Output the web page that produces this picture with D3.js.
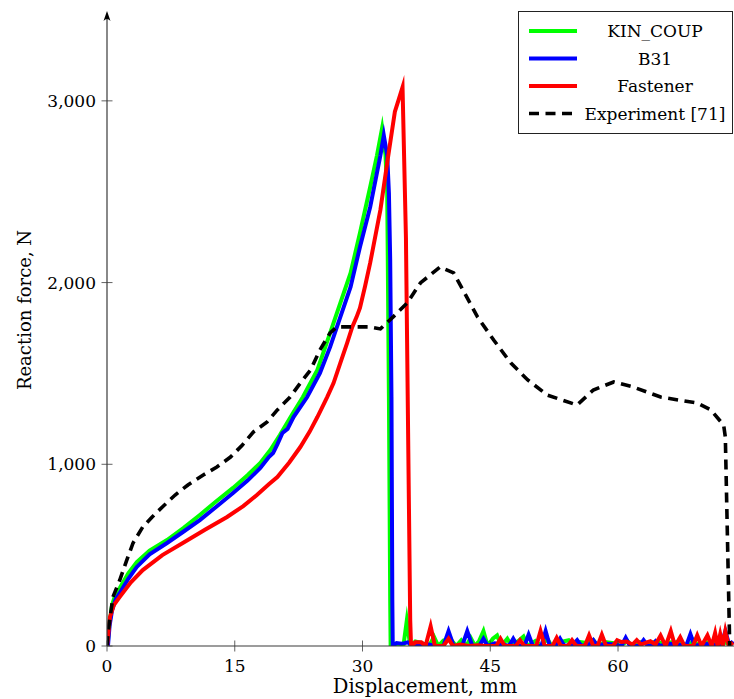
<!DOCTYPE html>
<html>
<head>
<meta charset="utf-8">
<script src="https://cdn.jsdelivr.net/npm/d3@7"></script>
<style>
  html, body { margin: 0; padding: 0; background: #fff; }
  svg text { font-family: "DejaVu Serif", "Liberation Serif", serif; fill: #000; }
</style>
</head>
<body>
<svg id="chart" width="734" height="699"></svg>
<script>
// ---------------- data ----------------
const xTicks = [0, 15, 30, 45, 60];
const yTicks = [0, 1000, 2000, 3000];
const xLabel = "Displacement, mm";
const yLabel = "Reaction force, N";
const seriesNames = ["KIN_COUP", "B31", "Fastener", "Experiment [71]"];
const seriesColors = ["#00ff00", "#0000ff", "#ff0000", "#000000"];

const kinCoup = [
  [0,0],[0.1,22],[0.3,130],[0.6,226],[1.0,285],[1.5,319],[2.5,400],[3.5,462],[5,525],[7.05,583],
  [9,650],[10.9,721],[12.8,795],[14.8,870],[16.5,940],[18.0,1007],[19.2,1080],[20.3,1161],[21.7,1271],
  [23.0,1370],[24.7,1519],[26.2,1723],[27.4,1888],[28.6,2053],[29.7,2273],[30.9,2526],[31.7,2700],
  [32.3,2850],[32.7,2700],[32.9,2493],[33.0,1943],[33.1,1370],[33.25,253],[33.3,0],
  [33.8,12],[34.4,8],[34.8,0],[35.2,140],[35.6,0],[36.2,25],[37.0,15],[37.8,0],[38.4,50],[38.9,0],
  [39.5,30],[40.3,40],[41.0,0],[41.6,32],[42.2,0],[42.7,45],[43.2,0],[43.7,28],[44.2,82],[44.7,0],
  [45.3,40],[45.8,58],[46.3,0],[47.0,40],[47.5,0],[48.3,28],[48.9,52],[49.4,0],[50.3,28],[51.0,0],
  [51.7,40],[52.2,0],[53.3,22],[54.2,32],[54.7,0],[55.6,22],[56.5,15],[57.1,32],[57.6,0],[58.5,22],
  [59.5,15],[60.3,0],[61.1,28],[61.6,0],[62.5,22],[63.5,15],[64.5,22],[65.5,15],[66.5,22],[67.5,15],
  [68.3,0],[68.9,32],[69.4,0],[70.2,22],[71.0,15],[72.0,22],[73.0,15],[73.5,8]
];

const b31 = [
  [0,0],[0.12,5],[0.3,110],[0.6,198],[1.0,255],[1.5,292],[2.5,370],[3.5,435],[5,505],[7.05,567],
  [9,630],[10.9,693],[12.8,765],[14.8,842],[16.5,910],[18.0,980],[19.0,1040],[19.5,1062],[20.0,1110],
  [20.6,1172],[21.2,1195],[21.9,1260],[23.5,1370],[25.0,1502],[26.2,1646],[27.4,1811],[28.6,1976],
  [29.7,2196],[30.9,2416],[32.1,2700],[32.5,2810],[32.9,2700],[33.1,2493],[33.25,2124],[33.4,1370],
  [33.5,253],[33.55,0],
  [34.0,16],[34.6,12],[35.3,20],[35.8,8],[36.3,0],[37.0,12],[37.8,8],[38.5,0],[39.5,0],[40.1,82],
  [40.7,0],[41.7,0],[42.3,82],[42.9,0],[43.7,0],[44.2,40],[44.7,0],[45.5,15],[46.5,8],[47.2,0],
  [47.7,40],[48.2,0],[49.0,0],[49.5,62],[50.0,0],[51.0,0],[51.5,82],[52.0,0],[52.7,0],[53.2,40],
  [53.7,0],[54.7,8],[55.2,32],[55.7,0],[56.6,8],[57.1,32],[57.6,0],[58.5,12],[59.5,8],[60.4,0],
  [60.9,45],[61.4,0],[62.5,0],[63.0,32],[63.5,0],[63.9,0],[64.4,26],[64.9,0],[66.0,12],[67.0,8],
  [68.0,0],[68.5,65],[69.0,0],[70.0,12],[71.0,8],[72.1,0],[72.6,82],[73.1,0],[73.5,26]
];

const fastener = [
  [0,0],[0.1,40],[0.35,160],[0.8,225],[1.5,270],[2.8,350],[4.2,418],[6.5,500],[8.9,567],[11.5,640],
  [14.1,710],[16,770],[17.6,831],[19,890],[20.0,930],[21.4,1010],[22.7,1095],[23.8,1180],[24.7,1260],
  [25.85,1370],[26.6,1447],[27.4,1558],[28.2,1668],[28.8,1756],[29.3,1810],[29.7,1860],[30.3,1980],
  [30.9,2108],[32.1,2400],[33.0,2691],[33.8,2940],[34.2,3000],[34.7,3075],[35.1,2245],[35.6,143],[35.7,0],
  [36.2,20],[36.9,20],[37.4,0],[38.0,108],[38.5,0],[39.5,0],[40.1,40],[40.6,0],[41.5,8],[42.5,0],
  [43.5,4],[44.5,0],[45.7,0],[46.2,40],[46.7,0],[48.0,0],[48.5,32],[49.0,0],[50.4,0],[50.9,82],
  [51.4,0],[52.3,0],[52.8,45],[53.3,0],[54.1,0],[54.6,32],[55.1,0],[56.1,0],[56.6,58],[57.1,0],
  [57.6,0],[58.1,62],[58.6,0],[59.4,0],[59.9,32],[60.4,22],[61.0,25],[61.7,8],[62.2,32],[62.7,8],
  [63.3,18],[63.8,26],[64.4,8],[65.0,58],[65.6,0],[66.2,82],[66.7,0],[67.3,48],[67.8,0],[68.8,0],
  [69.3,58],[69.8,0],[70.5,58],[71.0,0],[71.4,72],[71.7,0],[72.0,65],[72.3,0],[72.6,82],[73.0,0],
  [73.5,20]
];

const experiment = [
  [0,0],[0.12,72],[0.4,170],[0.7,270],[1.5,363],[2.3,470],[3.06,567],[4.2,655],[5.3,710],[6.5,765],
  [8.0,831],[9.5,886],[11.3,941],[12.9,985],[14.5,1040],[15.9,1106],[17.2,1178],[18.8,1233],[20.0,1299],
  [21.5,1370],[22.7,1447],[23.9,1519],[25.0,1629],[26.2,1723],[27.0,1756],[28.9,1756],[30.9,1756],
  [32.1,1745],[33.6,1811],[35.25,1888],[36.8,1998],[39.1,2086],[40.7,2053],[41.8,1959],[43.5,1811],
  [45.4,1684],[47.4,1558],[49.4,1464],[51.7,1381],[55.2,1326],[57.1,1409],[59.5,1453],[61.8,1425],
  [65.0,1370],[69.3,1337],[70.9,1299],[72.4,1216],[72.6,1150],[73.1,33],[73.1,0]
];

// ---------------- drawing ----------------
const svg = d3.select("#chart");
const x = d3.scaleLinear().domain([0, 73.5]).range([107, 733]);
const y = d3.scaleLinear().domain([0, 3500]).range([646, 10]);
const fmt = d3.format(",");

svg.append("defs").append("clipPath").attr("id", "plotclip")
  .append("rect").attr("x", x(0)).attr("y", y(3500))
  .attr("width", 734 - x(0)).attr("height", y(0) - y(3500));

const line = d3.line().x(d => x(d[0])).y(d => y(d[1]));

const plot = svg.append("g").attr("clip-path", "url(#plotclip)");
const simSeries = [kinCoup, b31, fastener];
simSeries.forEach((s, i) => {
  plot.append("path").datum(s).attr("d", line)
    .attr("fill", "none").attr("stroke", seriesColors[i])
    .attr("stroke-width", 4).attr("stroke-linejoin", "miter").attr("stroke-miterlimit", 10);
});
plot.append("path").datum(experiment).attr("d", line)
  .attr("fill", "none").attr("stroke", seriesColors[3])
  .attr("stroke-width", 3.6).attr("stroke-dasharray", "10,6.5");

// axes
const axisColor = "#3a3a3a";
svg.append("line").attr("x1", x(0)).attr("x2", 734).attr("y1", y(0)).attr("y2", y(0))
  .attr("stroke", axisColor).attr("stroke-width", 1.2);
svg.append("line").attr("x1", x(0)).attr("x2", x(0)).attr("y1", y(0)).attr("y2", 16)
  .attr("stroke", axisColor).attr("stroke-width", 1.2);
svg.append("path").attr("d", `M${x(0)},11 L${x(0)-3.5},21 Q${x(0)},17 ${x(0)+3.5},21 Z`)
  .attr("fill", "#000");

const xt = svg.append("g");
xTicks.forEach(t => {
  xt.append("line").attr("x1", x(t)).attr("x2", x(t)).attr("y1", y(0) - 5.5).attr("y2", y(0) + 5.5)
    .attr("stroke", axisColor).attr("stroke-width", 0.8);
  xt.append("text").attr("x", x(t)).attr("y", 672).attr("text-anchor", "middle")
    .attr("font-size", 17).text(fmt(t));
});
const yt = svg.append("g");
yTicks.forEach(t => {
  yt.append("line").attr("x1", x(0) - 5.5).attr("x2", x(0) + 5.5).attr("y1", y(t)).attr("y2", y(t))
    .attr("stroke", axisColor).attr("stroke-width", 0.8);
  yt.append("text").attr("x", 96).attr("y", y(t)).attr("dy", "0.36em").attr("text-anchor", "end")
    .attr("font-size", 17).text(fmt(t));
});

svg.append("text").attr("x", 425).attr("y", 693).attr("text-anchor", "middle")
  .attr("font-size", 19.5).text(xLabel);
svg.append("text").attr("transform", "translate(31,310) rotate(-90)").attr("text-anchor", "middle")
  .attr("font-size", 18).text(yLabel);

// legend
const lg = svg.append("g");
lg.append("rect").attr("x", 518.5).attr("y", 11.5).attr("width", 214).attr("height", 122)
  .attr("fill", "#fff").attr("stroke", "#222").attr("stroke-width", 1);
const rowY = [31, 58.5, 86, 113.5];
seriesNames.forEach((name, i) => {
  const ln = lg.append("line").attr("x1", 529).attr("x2", 577).attr("y1", rowY[i]).attr("y2", rowY[i])
    .attr("stroke", seriesColors[i]).attr("stroke-width", i < 3 ? 4 : 3.6);
  if (i === 3) ln.attr("stroke-dasharray", "10,6.5");
  lg.append("text").attr("x", 655).attr("y", rowY[i]).attr("dy", "0.36em")
    .attr("text-anchor", "middle").attr("font-size", 17).text(name);
});
</script>
</body>
</html>
